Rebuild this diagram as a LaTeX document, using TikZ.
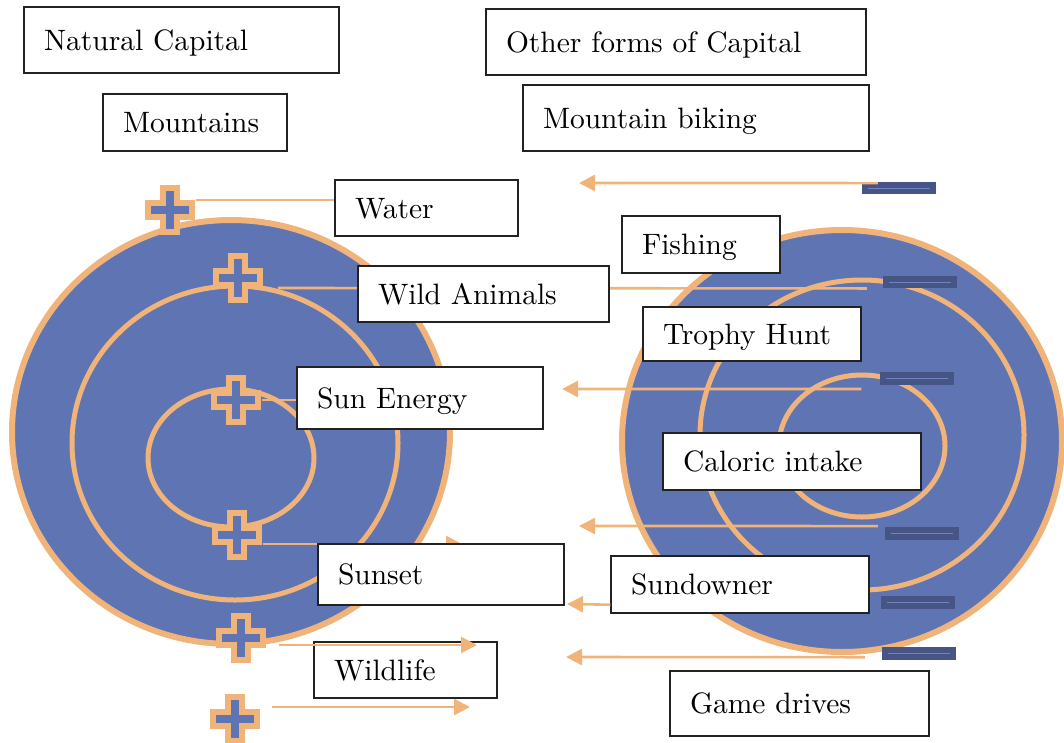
\documentclass[tikz,border=0pt]{standalone}
\usepackage{fontspec}
\setmainfont{lmroman10-regular}[Extension=.otf]
\usetikzlibrary{arrows.meta,calc}

\definecolor{ringblue}{HTML}{5F74B2}
\definecolor{ringorange}{HTML}{F0B47A}
\definecolor{minusblue}{HTML}{465585}
\definecolor{minusline}{HTML}{7085BF}
\definecolor{boxline}{HTML}{222222}

\tikzset{
  disc/.style={fill=ringblue, draw=ringorange, line width=6pt},
  ring/.style={draw=ringorange, line width=5pt},
  labelbox/.style 2 args={draw=boxline, line width=1.4pt, fill=white,
    inner xsep=0pt, inner ysep=0pt, align=left,
    minimum width=#1pt, text width=#1pt, minimum height=#2pt,
    execute at begin node={\hspace*{20pt}},
    text height=20pt, text depth=0pt, font=\fontsize{29.5}{35}\selectfont},
  plussign/.style={minimum size=52pt, inner sep=0pt,
    path picture={
      \draw[fill=ringblue, draw=ringorange, line width=6pt, line join=miter]
        ($(path picture bounding box.center)+(-7pt,-22pt)$)
        -- ++(14pt,0pt) -- ++(0pt,15pt) -- ++(15pt,0pt) -- ++(0pt,14pt)
        -- ++(-15pt,0pt) -- ++(0pt,15pt) -- ++(-14pt,0pt) -- ++(0pt,-15pt)
        -- ++(-15pt,0pt) -- ++(0pt,-14pt) -- ++(15pt,0pt) -- cycle;
    }},
  minussign/.style={fill=minusblue, inner sep=0pt,
    minimum width=74pt, minimum height=12.5pt,
    path picture={
      \draw[minusline, line width=0.8pt]
        ($(path picture bounding box.west)+(6pt,0pt)$) --
        ($(path picture bounding box.east)+(-6pt,0pt)$);
    }},
  link/.style={draw=ringorange, line width=2.6pt},
  arrowlink/.style={link, -{Triangle[length=16pt,width=16pt]}},
}

\begin{document}
\begin{tikzpicture}[x=1pt, y=-1pt]
\useasboundingbox (0,0) rectangle (1064,742);

% left set of nested rings
\draw[disc] (231,432) ellipse [x radius=219, y radius=212];
\draw[ring] (235,443) ellipse [x radius=163, y radius=157];
\draw[ring] (231,458) ellipse [x radius=83, y radius=69];

% right set of nested rings
\draw[disc] (842,441) ellipse [x radius=220, y radius=211];
\draw[ring] (862,435) ellipse [x radius=162, y radius=155];
\draw[ring] (862,446) ellipse [x radius=83, y radius=71];

% plus signs
\node[plussign] (P1) at (170,210) {};
\node[plussign] (P2) at (238,278) {};
\node[plussign] (P3) at (236,400) {};
\node[plussign] (P4) at (237,535) {};
\node[plussign] (P5) at (241,638) {};
\node[plussign] (P6) at (235,719) {};

% minus signs
\node[minussign] (M1) at (899,188) {};
\node[minussign] (M2) at (920,282) {};
\node[minussign] (M3) at (916.5,378.5) {};
\node[minussign] (M4) at (921.5,533.5) {};
\node[minussign] (M5) at (917.5,602.5) {};
\node[minussign] (M6) at (918.5,653.5) {};

% arrow tips
\coordinate (tipP4) at (462,544);
\coordinate (tipP5) at (477,645);
\coordinate (tipP6) at (470,707);
\coordinate (tipM1) at (579,183);
\coordinate (tipM3) at (562,389);
\coordinate (tipM4) at (579,526);
\coordinate (tipM5) at (567,604);
\coordinate (tipM6) at (566,657);

% label boxes
\node[labelbox={315}{66}] (NC) at (181.5,40) {Natural Capital};
\node[labelbox={184}{57}] (Mnt) at (195,122.5) {Mountains};
\node[labelbox={380}{66}] (OF) at (676,42) {Other forms of Capital};
\node[labelbox={346}{66}] (MB) at (696,118) {Mountain biking};

% connectors running beneath the boxes
\coordinate (w1) at ([yshift=10pt]P1.east);
\draw[link] ([xshift=14pt,yshift=-10pt]P2.east) -- ([xshift=-16pt]M2.south west);
\draw[arrowlink] ([yshift=-9pt]P4.east) -- (tipP4);
\draw[arrowlink] ([xshift=11pt,yshift=12pt]P6.east) -- (tipP6);
\draw[arrowlink] ([xshift=16pt,yshift=-1.5pt]M1.north west) -- (tipM1);
\draw[arrowlink] ([xshift=-18pt,yshift=-4pt]M3.south west) -- (tipM3);
\draw[arrowlink] ([xshift=-6.5pt,yshift=1pt]M4.north west) -- (tipM4);
\draw[arrowlink] ([xshift=-16.5pt,yshift=2.75pt]M6.south west) -- (tipM6);

\node[labelbox={183}{56}] (Water) at (426.5,208) {Water};
\node[labelbox={158}{57}] (Fish) at (701,244.5) {Fishing};
\node[labelbox={251}{56}] (WA) at (483.5,294) {Wild Animals};
\node[labelbox={218}{54}] (TH) at (752,334) {Trophy Hunt};
\node[labelbox={246}{62}] (SE) at (420,398) {Sun Energy};
\node[labelbox={258}{57}] (CI) at (792,461.5) {Caloric intake};
\node[labelbox={246}{61}] (Sunset) at (441,574.5) {Sunset};
\node[labelbox={258}{57}] (Sundowner) at (740,584.5) {Sundowner};
\node[labelbox={183}{56}] (Wildlife) at (405.5,670) {Wildlife};
\node[labelbox={259}{65}] (GD) at (799.5,703.5) {Game drives};

% connectors meeting the box edges
\draw[link] (w1) -- (w1 -| Water.west);
\draw[link] (P3.east) -- (P3.east -| SE.west);
\draw[arrowlink] ([yshift=9pt]Sundowner.south west) -- (tipM5);
\draw[arrowlink] ([xshift=12pt,yshift=-7pt]P5.east) -- (tipP5);
\end{tikzpicture}
\end{document}
